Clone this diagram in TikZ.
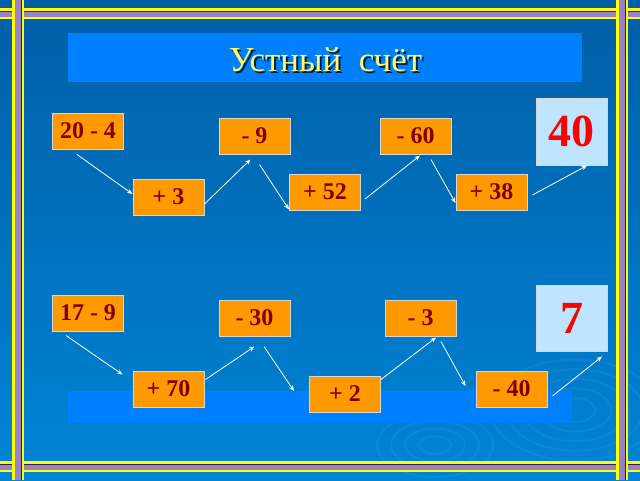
\documentclass[tikz,border=0pt]{standalone}
\usepackage{fontspec}
\setmainfont{Liberation Serif}
\usetikzlibrary{arrows.meta}
\definecolor{bgtop}{RGB}{0,94,166}
\definecolor{bgbot}{RGB}{0,132,214}
\definecolor{stripe}{RGB}{0,128,255}
\definecolor{cardfill}{RGB}{255,153,0}
\definecolor{cardline}{RGB}{215,215,215}
\definecolor{cardtext}{RGB}{128,0,0}
\definecolor{resfill}{RGB}{190,228,255}
\definecolor{gold}{RGB}{255,255,102}
\definecolor{shade}{RGB}{0,30,70}
\definecolor{rimy}{RGB}{255,255,0}
\definecolor{riml}{RGB}{150,130,200}
\definecolor{rimd}{RGB}{60,30,60}

\begin{document}
\begin{tikzpicture}[x=1pt,y=-1pt,
  card/.style={draw=cardline, line width=1pt, fill=cardfill, minimum width=71pt, minimum height=36pt,
    inner sep=0pt, text=cardtext, font=\bfseries\fontsize{24}{24}\selectfont},
  result/.style={card, fill=resfill, minimum height=67pt, text=red, font=\bfseries\fontsize{46}{46}\selectfont},
  hop/.style={white, line width=0.8pt, -{Stealth[length=5.5pt,width=4.5pt]}},
  title/.style={font=\fontsize{35}{35}\selectfont}]
\useasboundingbox (0,0) rectangle (640,480);
\clip (0,0) rectangle (640,480);
\shade[top color=bgtop, bottom color=bgbot] (0,0) rectangle (640,480);
% ripples
\foreach \r in {16,30,44,58}
  \draw[white, opacity=0.05, line width=2pt] (435,445) ellipse [x radius=\r, y radius=0.55*\r];
\foreach \r in {20,36,52,68,84}
  \draw[white, opacity=0.05, line width=2pt] (575,410) ellipse [x radius=\r, y radius=0.6*\r];
% frame
\foreach \y in {8,461} {
  \fill[rimy] (0,\y) rectangle (640,\y+11);
  \fill[riml] (0,\y+2.5) rectangle (640,\y+8.5);
  \draw[rimd, line width=0.8pt] (0,\y+3) -- (640,\y+3);
}
\foreach \x in {12,616} {
  \fill[rimy] (\x,0) rectangle (\x+12,480);
  \fill[riml] (\x+2.5,0) rectangle (\x+9.5,480);
  \draw[rimd, line width=0.8pt] (\x+9,0) -- (\x+9,480);
}
\fill[stripe] (68,33) rectangle (582,82);
\fill[stripe] (68,391) rectangle (572,423);
\node[title, text=shade] at (327.5,62) {Устный\ \ счёт};
\node[title, text=gold] (head) at (325.5,60) {Устный\ \ счёт};

\node[card] (t1) at (88,131) {20 - 4};
\node[card] (t2) at (168.5,197) {+ 3};
\node[card] (t3) at (254.5,136) {- 9};
\node[card] (t4) at (325,192) {+ 52};
\node[card] (t5) at (415.5,136) {- 60};
\node[card] (t6) at (491.5,192) {+ 38};
\node[result] (t7) at (571.5,131.5) {40};

\node[card] (b1) at (88,313) {17 - 9};
\node[card] (b2) at (168.5,389) {+ 70};
\node[card] (b3) at (254.5,318) {- 30};
\node[card] (b4) at (345,394) {+ 2};
\node[card] (b5) at (420.5,318) {- 3};
\node[card] (b6) at (511.5,389) {- 40};
\node[result, minimum height=66pt] (b7) at (571.5,318) {7};

\draw[hop] ([shift={(25,5)}]t1.south west) -- ([shift={(0,-3)}]t2.west);
\draw[hop] ([shift={(0,7)}]t2.east) -- ([shift={(-4,5)}]t3.south);
\draw[hop] ([shift={(5,10)}]t3.south) -- ([shift={(0,-1)}]t4.south west);
\draw[hop] ([shift={(4,7)}]t4.east) -- ([shift={(4.5,1)}]t5.south);
\draw[hop] ([shift={(15.5,5)}]t5.south) -- ([shift={(0,11)}]t6.west);
\draw[hop] ([shift={(5,3)}]t6.east) -- ([shift={(15.5,0)}]t7.south);

\draw[hop] ([shift={(14,4)}]b1.south west) -- ([shift={(-10,4)}]b2.north west);
\draw[hop] ([shift={(1,9)}]b2.north east) -- ([shift={(0,10)}]b3.south);
\draw[hop] ([shift={(9.5,10)}]b3.south) -- ([shift={(-15,-3)}]b4.west);
\draw[hop] ([shift={(0,4)}]b4.north east) -- ([shift={(15.5,1)}]b5.south);
\draw[hop] ([shift={(20.5,5)}]b5.south) -- ([shift={(-10,-3)}]b6.west);
\draw[hop] ([shift={(5,7)}]b6.east) -- ([shift={(30.5,5)}]b7.south);
\end{tikzpicture}
\end{document}
